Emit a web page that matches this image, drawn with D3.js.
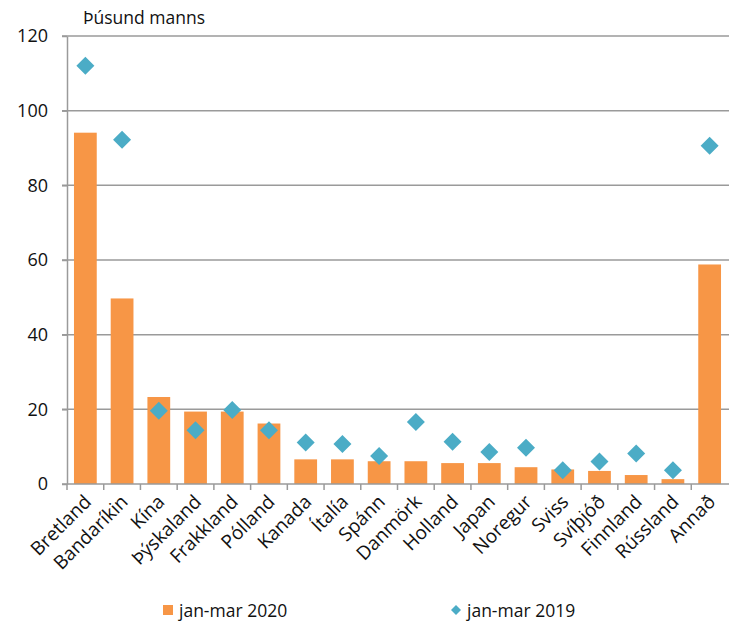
<!DOCTYPE html>
<html>
<head>
<meta charset="utf-8">
<script src="https://cdn.jsdelivr.net/npm/d3@7"></script>
<style>
  body { margin: 0; background: #fff; }
  svg { font-family: "Open Sans", "Liberation Sans", sans-serif; }
</style>
</head>
<body>
<div id="chart"></div>
<script>
const countries = ["Bretland", "Bandaríkin", "Kína", "Þýskaland", "Frakkland", "Pólland", "Kanada", "Ítalía",
    "Spánn", "Danmörk", "Holland", "Japan", "Noregur", "Sviss", "Svíþjóð", "Finnland", "Rússland", "Annað"];
const values2020 = [94.1, 49.7, 23.3, 19.4, 19.4, 16.2, 6.6, 6.6, 6.1, 6.1, 5.6, 5.6, 4.5, 3.9, 3.5, 2.4, 1.3, 58.8];
const values2019 = [112, 92.2, 19.6, 14.4, 19.8, 14.4, 11.1, 10.7, 7.5, 16.6, 11.3, 8.6, 9.7, 3.7, 6.0, 8.2, 3.7, 90.6];
const yTicks = [0, 20, 40, 60, 80, 100, 120];
const seriesNames = ["jan-mar 2020", "jan-mar 2019"];

const width = 729, height = 625;
const margin = { left: 67, right: 1, top: 36, bottom: 141 };
const orange = "#f79646", teal = "#4bacc6", grid = "#9a9a9a";

const svg = d3.select("#chart").append("svg")
    .attr("width", width)
    .attr("height", height);

const x = d3.scaleBand().domain(countries).range([margin.left, width - margin.right]).paddingInner(0.38).paddingOuter(0.19);
const xb = d3.scaleBand().domain(countries).range([margin.left, width - margin.right]);
const y = d3.scaleLinear().domain([0, 120]).range([height - margin.bottom, margin.top]);

// gridlines
svg.append("g").selectAll("line").data(yTicks.filter(d => d > 0)).enter().append("line")
    .attr("x1", margin.left - 5).attr("x2", width)
    .attr("y1", d => y(d)).attr("y2", d => y(d))
    .attr("stroke", grid).attr("stroke-width", 1.5);

// bars
svg.append("g").selectAll("rect").data(countries).enter().append("rect")
    .attr("x", d => x(d))
    .attr("width", x.bandwidth())
    .attr("y", (d, i) => y(values2020[i]))
    .attr("height", (d, i) => y(0) - y(values2020[i]))
    .attr("fill", orange);

// diamonds
const r = 9;
const diamond = `M0,${-r}L${r},0L0,${r}L${-r},0Z`;
svg.append("g").selectAll("path").data(countries).enter().append("path")
    .attr("d", diamond)
    .attr("transform", (d, i) => `translate(${xb(d) + xb.bandwidth() / 2},${y(values2019[i])})`)
    .attr("fill", teal);

// y axis
const yAxis = svg.append("g").attr("transform", `translate(${margin.left},0)`)
    .call(d3.axisLeft(y).tickValues(yTicks).tickSize(5).tickSizeOuter(0));
yAxis.select(".domain").attr("stroke", grid).attr("stroke-width", 1.5);
yAxis.selectAll(".tick line").attr("stroke", grid).attr("stroke-width", 1.5);
yAxis.selectAll(".tick text").attr("x", -19).attr("font-size", 18).attr("fill", "#111")
    .attr("font-family", "Open Sans, sans-serif");

// x axis
const xg = svg.append("g").attr("transform", `translate(0,${y(0)})`);
xg.append("line").attr("x1", margin.left - 5).attr("x2", width)
    .attr("stroke", grid).attr("stroke-width", 1.5);
xg.selectAll(".tk").data(countries).enter().append("line")
    .attr("x1", d => xb(d)).attr("x2", d => xb(d))
    .attr("y1", 0).attr("y2", 6)
    .attr("stroke", grid).attr("stroke-width", 1.5);
xg.selectAll("text").data(countries).enter().append("text")
    .attr("transform", d => `translate(${xb(d) + xb.bandwidth() / 2 + 7},${19}) rotate(-45)`)
    .attr("text-anchor", "end")
    .attr("font-size", 19)
    .attr("fill", "#111")
    .text(d => d);

// unit label
svg.append("text").attr("x", 83).attr("y", 24).attr("font-size", 17.5).attr("fill", "#111")
    .text("Þúsund manns");

// legend
const lg = svg.append("g").attr("font-size", 17.5).attr("fill", "#111");
lg.append("rect").attr("x", 163).attr("y", 605).attr("width", 10).attr("height", 10).attr("fill", orange);
lg.append("text").attr("x", 179).attr("y", 617).text(seriesNames[0]);
lg.append("path").attr("d", "M0,-5L5,0L0,5L-5,0Z").attr("transform", "translate(456,610)").attr("fill", teal);
lg.append("text").attr("x", 467).attr("y", 617).text(seriesNames[1]);
</script>
</body>
</html>
